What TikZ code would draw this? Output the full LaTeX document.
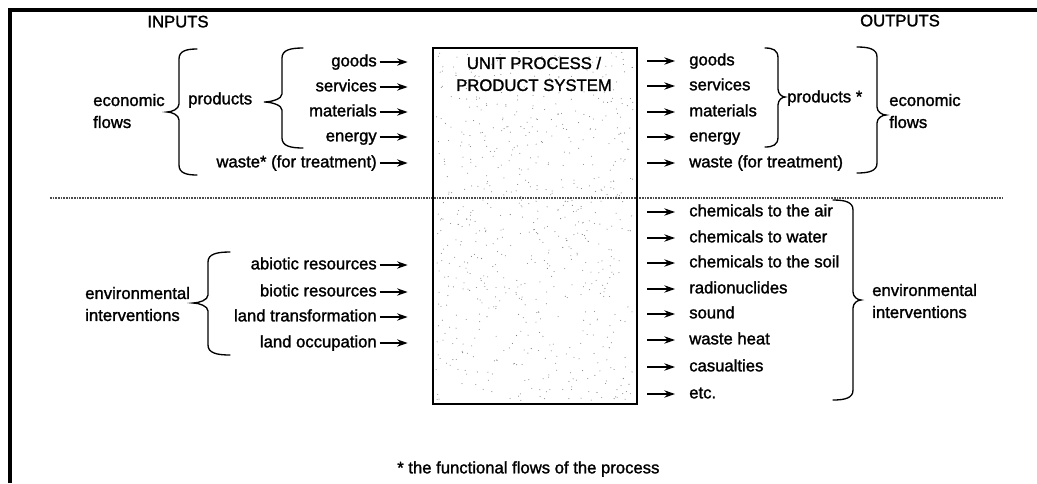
\documentclass[tikz,border=0pt]{standalone}
\usepackage{fontspec}
\setmainfont{Liberation Sans}[BoldFont={Liberation Sans},BoldFeatures={FakeBold=1.5}]
\usetikzlibrary{arrows.meta,positioning}
% curly bracket: tail x, stem x, tip x, top y, tip y, bottom y
\newcommand{\curly}[6]{%
\draw[curl] (#1,#4) .. controls ({#2+0.4*(#1-#2)},#4) and (#2,{#4+2}) .. (#2,{#4+10})
 -- (#2,{#5-8}) .. controls (#2,{#5-3}) and ({#3+0.4*(#2-#3)},#5) .. (#3,#5)
 .. controls ({#3+0.4*(#2-#3)},#5) and (#2,{#5+3}) .. (#2,{#5+8})
 -- (#2,{#6-10}) .. controls (#2,{#6-2}) and ({#2+0.4*(#1-#2)},#6) .. (#1,#6);}

\begin{document}
\begin{tikzpicture}[x=0.75pt,y=-0.75pt,font=\fontsize{12.5}{16.5}\selectfont\bfseries]
\tikzstyle{lbl}=[inner sep=0pt,text height=9pt,text depth=2.5pt]
\tikzstyle{two}=[inner sep=0pt,align=left]
\tikzstyle{flow}=[line width=1pt,-{Stealth[length=8pt,width=5.5pt]}]
\tikzstyle{curl}=[line width=1pt,line cap=round]
\tikzstyle{procbox}=[draw,line width=1.3pt,minimum width=153pt,minimum height=267pt,outer sep=0pt]
\tikzstyle{sepline}=[black!70,line width=0.8pt,dash pattern=on 1.2pt off 0.8pt]
\useasboundingbox (0,0) rectangle (1037,483);
\draw[line width=3pt] (10,483) -- (10,10) -- (1037,10);
\node[lbl] (inputs) at (178,23) {INPUTS};
\node[lbl] (outputs) at (900,22) {OUTPUTS};
% process box with stipple
\pgfmathsetseed{11}
\foreach \i in {1,...,700}
  \fill[black!50] ({436+198*rnd},{51+350*rnd}) circle (0.4pt);
\draw[sepline] (50,198) -- (1003,198);
\node[procbox] (box) at (535,226) {};
\node[two,align=center] (title) at (534,74) {UNIT PROCESS /\\PRODUCT SYSTEM};
% inputs, economic
\node[lbl,anchor=east] (in1) at (377,62) {goods};
\node[lbl,anchor=east] (in2) at (377,87) {services};
\node[lbl,anchor=east] (in3) at (377,112) {materials};
\node[lbl,anchor=east] (in4) at (377,137) {energy};
\node[lbl,anchor=east] (in5) at (377,163) {waste* (for treatment)};
\node[lbl,anchor=west] (inprod) at (188,100) {products};
\node[two,anchor=west] (inecon) at (93,111) {economic\\flows};
\draw[flow,shorten <=2pt,shorten >=19pt] (in1) -- (in1 -| box.west);
\draw[flow,shorten <=2pt,shorten >=19pt] (in2) -- (in2 -| box.west);
\draw[flow,shorten <=2pt,shorten >=19pt] (in3) -- (in3 -| box.west);
\draw[flow,shorten <=2pt,shorten >=19pt] (in4) -- (in4 -| box.west);
\draw[flow,shorten <=2pt,shorten >=19pt] (in5) -- (in5 -| box.west);
\curly{197}{179}{167}{49}{112}{175}
\curly{303}{282}{264}{48}{102}{148}
% inputs, environmental
\node[lbl,anchor=east] (ein1) at (377,265) {abiotic resources};
\node[lbl,anchor=east] (ein2) at (377,292) {biotic resources};
\node[lbl,anchor=east] (ein3) at (377,317) {land transformation};
\node[lbl,anchor=east] (ein4) at (377,343) {land occupation};
\node[two,anchor=west] (inenv) at (85,304) {environmental\\interventions};
\draw[flow,shorten <=2pt,shorten >=19pt] (ein1) -- (ein1 -| box.west);
\draw[flow,shorten <=2pt,shorten >=19pt] (ein2) -- (ein2 -| box.west);
\draw[flow,shorten <=2pt,shorten >=19pt] (ein3) -- (ein3 -| box.west);
\draw[flow,shorten <=2pt,shorten >=19pt] (ein4) -- (ein4 -| box.west);
\curly{230}{208}{193}{252}{303}{355}
% outputs, economic
\node[lbl,anchor=west] (out1) at (689,61) {goods};
\node[lbl,anchor=west] (out2) at (689,86) {services};
\node[lbl,anchor=west] (out3) at (689,112) {materials};
\node[lbl,anchor=west] (out4) at (689,137) {energy};
\node[lbl,anchor=west] (out5) at (689,163) {waste (for treatment)};
\node[lbl,anchor=west] (outprod) at (787,98) {products *};
\node[two,anchor=west] (outecon) at (889,111) {economic\\flows};
\draw[flow,shorten <=7.5pt,shorten >=10.5pt] (out1 -| box.east) -- (out1);
\draw[flow,shorten <=7.5pt,shorten >=10.5pt] (out2 -| box.east) -- (out2);
\draw[flow,shorten <=7.5pt,shorten >=10.5pt] (out3 -| box.east) -- (out3);
\draw[flow,shorten <=7.5pt,shorten >=10.5pt] (out4 -| box.east) -- (out4);
\draw[flow,shorten <=7.5pt,shorten >=10.5pt] (out5 -| box.east) -- (out5);
\curly{765}{778}{785}{48}{97}{147}
\curly{857}{877}{886}{47}{115}{173}
% outputs, environmental
\node[lbl,anchor=west] (eout1) at (689,212) {chemicals to the air};
\node[lbl,anchor=west] (eout2) at (689,238) {chemicals to water};
\node[lbl,anchor=west] (eout3) at (689,263) {chemicals to the soil};
\node[lbl,anchor=west] (eout4) at (689,289) {radionuclides};
\node[lbl,anchor=west] (eout5) at (689,314) {sound};
\node[lbl,anchor=west] (eout6) at (689,340) {waste heat};
\node[lbl,anchor=west] (eout7) at (689,367) {casualties};
\node[lbl,anchor=west] (eout8) at (689,394) {etc.};
\node[two,anchor=west] (outenv) at (872,301) {environmental\\interventions};
\draw[flow,shorten <=7.5pt,shorten >=10.5pt] (eout1 -| box.east) -- (eout1);
\draw[flow,shorten <=7.5pt,shorten >=10.5pt] (eout2 -| box.east) -- (eout2);
\draw[flow,shorten <=7.5pt,shorten >=10.5pt] (eout3 -| box.east) -- (eout3);
\draw[flow,shorten <=7.5pt,shorten >=10.5pt] (eout4 -| box.east) -- (eout4);
\draw[flow,shorten <=7.5pt,shorten >=10.5pt] (eout5 -| box.east) -- (eout5);
\draw[flow,shorten <=7.5pt,shorten >=10.5pt] (eout6 -| box.east) -- (eout6);
\draw[flow,shorten <=7.5pt,shorten >=10.5pt] (eout7 -| box.east) -- (eout7);
\draw[flow,shorten <=7.5pt,shorten >=10.5pt] (eout8 -| box.east) -- (eout8);
\curly{833}{853}{861}{200}{300}{400}
\node[lbl,anchor=west] (note) at (397,469) {* the functional flows of the process};
\end{tikzpicture}
\end{document}
